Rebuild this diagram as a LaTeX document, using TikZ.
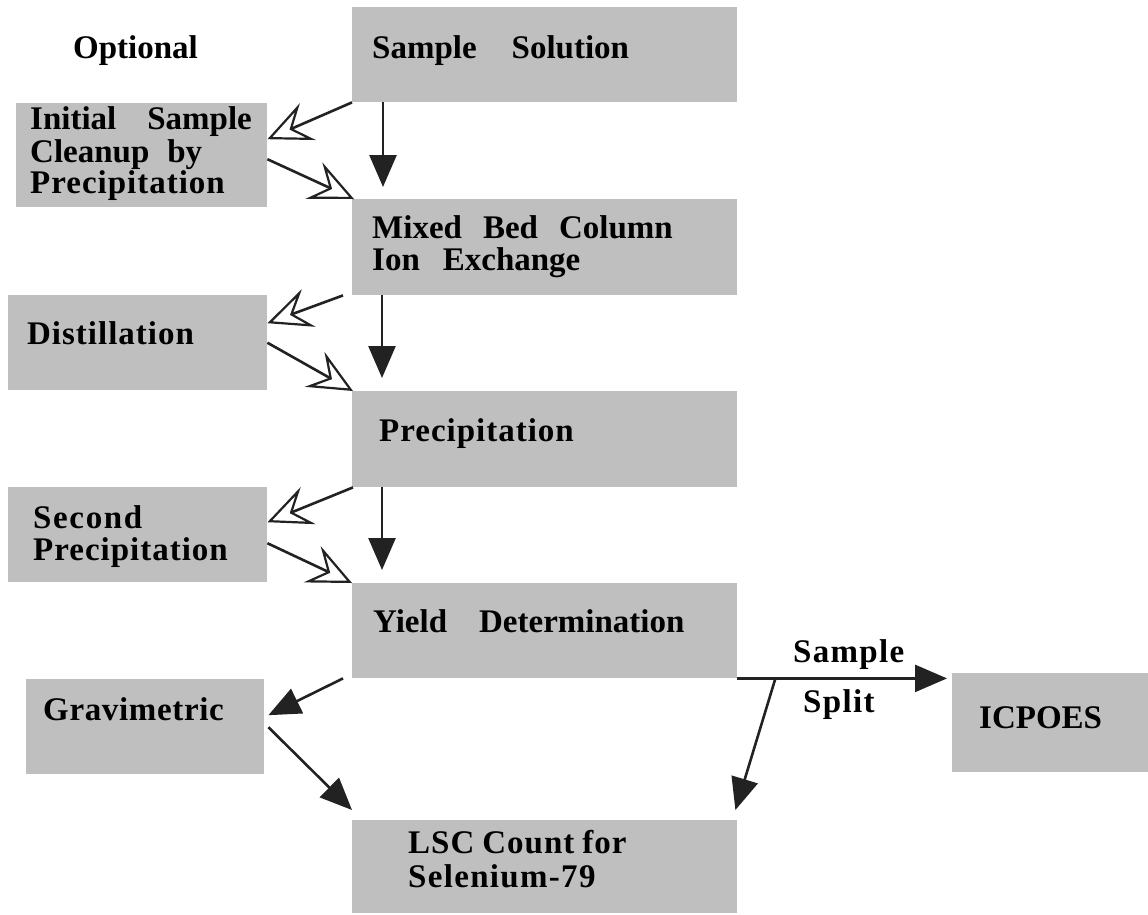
\documentclass[tikz,border=0pt]{standalone}
\usepackage{fontspec}
\setmainfont{Liberation Serif}
\usetikzlibrary{arrows.meta}
\definecolor{boxgray}{RGB}{191,191,191}
\definecolor{arrowcol}{RGB}{34,34,34}
\tikzset{
  box/.style={fill=boxgray, draw=none, inner sep=0pt, anchor=north west},
  txt/.style={inner sep=0pt, anchor=base west, font=\fontsize{33}{33}\selectfont\bfseries},
  solidarrow/.style={draw=arrowcol, line width=2.6pt, -{Triangle[length=32pt,width=27pt]}},
  openarrow/.style={draw=arrowcol, line width=2.6pt, arrows={-Stealth[open, length=44pt, width=40pt, inset=17pt, line width=2.2pt]}},
}
\newcommand{\gap}[1]{\hspace*{#1pt}}
\begin{document}
\begin{tikzpicture}[x=1pt,y=-1pt]
\useasboundingbox (0,0) rectangle (1148,914);
% boxes
\node[box, minimum width=385pt, minimum height=95pt] (ss) at (352,7) {};
\node[box, minimum width=251pt, minimum height=104pt] (init) at (16,103) {};
\node[box, minimum width=385pt, minimum height=96pt] (mix) at (352,199) {};
\node[box, minimum width=259pt, minimum height=95pt] (dist) at (8,295) {};
\node[box, minimum width=385pt, minimum height=96pt] (prec) at (352,391) {};
\node[box, minimum width=259pt, minimum height=95pt] (sec) at (8,487) {};
\node[box, minimum width=385pt, minimum height=95pt] (yield) at (352,583) {};
\node[box, minimum width=238pt, minimum height=95pt] (grav) at (26,679) {};
\node[box, minimum width=196pt, minimum height=99pt] (icp) at (952,673) {};
\node[box, minimum width=385pt, minimum height=93pt] (lsc) at (352,820) {};
% texts
\node[txt] (topt) at (73,58) {Optional};
\node[txt] (tss) at (372,58) {Sample\gap{35}Solution};
\node[txt] (tinit1) at (30,129) {Initial\gap{31}Sample};
\node[txt] (tinit2) at (30,162) {Cleanup\gap{18}by};
\node[txt] (tinit3) at (30,193) {\addfontfeature{LetterSpace=3}Precipitation};
\node[txt] (tmix1) at (372,238) {Mixed\gap{21}Bed\gap{21}Column};
\node[txt] (tmix2) at (372,270) {Ion\gap{23}Exchange};
\node[txt] (tdist) at (27,344) {\addfontfeature{LetterSpace=3}Distillation};
\node[txt] (tprec) at (379,441) {\addfontfeature{LetterSpace=3}Precipitation};
\node[txt] (tsec1) at (33,528) {\addfontfeature{LetterSpace=5}Second};
\node[txt] (tsec2) at (33,560) {\addfontfeature{LetterSpace=3}Precipitation};
\node[txt] (tyield) at (373,632) {Yield\gap{32}Determination};
\node[txt] (tgrav) at (43,720) {\addfontfeature{LetterSpace=2}Gravimetric};
\node[txt] (ticp) at (979,728) {ICPOES};
\node[txt] (tlsc1) at (408,853) {\addfontfeature{LetterSpace=3}LSC\gap{8}Count\gap{8}for};
\node[txt] (tlsc2) at (408,887) {\addfontfeature{LetterSpace=4}Selenium-79};
\node[txt] (tsample) at (793,662) {\addfontfeature{LetterSpace=4}Sample};
\node[txt] (tsplit) at (803,712) {\addfontfeature{LetterSpace=4}Split};
% main vertical arrows
\draw[solidarrow] ([xshift=31pt]ss.south west) -- ([xshift=31pt,yshift=12pt]mix.north west);
\draw[solidarrow] ([xshift=30pt]mix.south west) -- ([xshift=30pt,yshift=13pt]prec.north west);
\draw[solidarrow] ([xshift=30pt]prec.south west) -- ([xshift=30pt,yshift=13pt]yield.north west);
% optional loops
\draw[openarrow] (ss.south west) -- ([yshift=16pt]init.east);
\draw[openarrow] ([yshift=-4pt]init.east) -- ([xshift=2pt]mix.north west);
\draw[openarrow] ([xshift=-9pt]mix.south west) -- ([yshift=19.5pt]dist.east);
\draw[openarrow] ([yshift=0pt]dist.east) -- ([xshift=1pt]prec.north west);
\draw[openarrow] ([xshift=1pt]prec.south west) -- ([yshift=12.5pt]sec.east);
\draw[openarrow] ([yshift=-8.5pt]sec.east) -- (yield.north west);
% gravimetric
\draw[solidarrow] ([xshift=-9pt]yield.south west) -- ([xshift=4pt,yshift=11.5pt]grav.east);
\draw[solidarrow] ([xshift=4pt,yshift=-0.5pt]grav.east) -- ([yshift=10pt]lsc.north west);
% sample split
\coordinate (splitend) at ([xshift=-5pt]icp.west |- yield.south east);
\coordinate (branch) at ([xshift=38pt]yield.south east);
\draw[solidarrow] (yield.south east) -- (splitend);
\draw[solidarrow] (branch) -- ([xshift=-2pt,yshift=10pt]lsc.north east);
\end{tikzpicture}
\end{document}
